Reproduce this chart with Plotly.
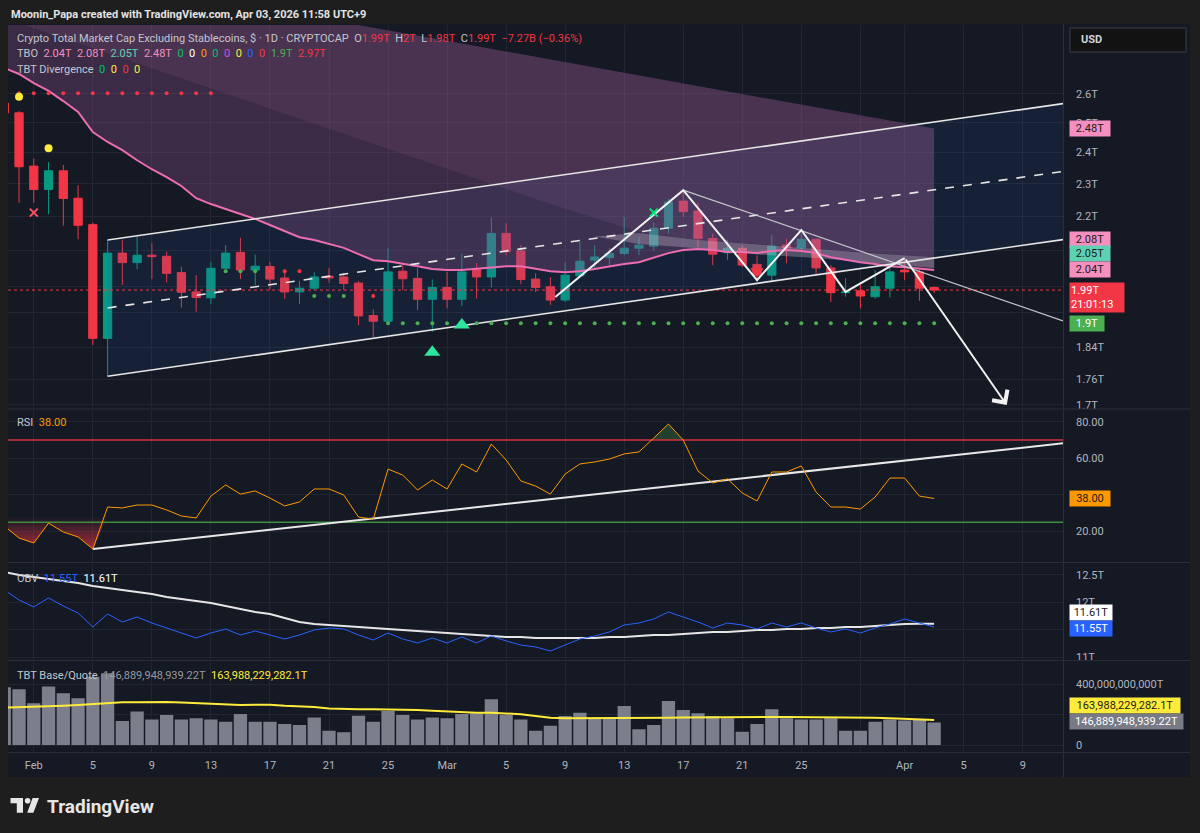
import math
import pandas as pd
import plotly.graph_objects as go

# ---------------- data ----------------
dates = pd.date_range("2026-01-30", "2026-04-03", freq="D").strftime("%Y-%m-%d").tolist()

price_open = [2.568, 2.534, 2.356, 2.282, 2.341, 2.255, 2.175, 1.862, 2.092, 2.065,
              2.086, 2.083, 2.037, 1.984, 1.968, 2.049, 2.094, 2.044, 2.054, 2.022,
              1.984, 1.994, 2.027, 2.025, 2.008, 1.921, 1.906, 2.041, 2.021, 1.964,
              1.996, 1.964, 2.046, 2.025, 2.149, 2.098, 2.019, 1.998, 1.962, 2.028,
              2.072, 2.079, 2.091, 2.106, 2.112, 2.164, 2.246, 2.216, 2.134, 2.093,
              2.106, 2.060, 2.030, 2.115, 2.107, 2.132, 2.050, 1.982, 1.987, 1.971,
              1.994, 2.044, 2.039, 1.996]
price_high = [2.585, 2.540, 2.380, 2.369, 2.360, 2.295, 2.181, 2.130, 2.130, 2.139,
              2.120, 2.096, 2.053, 2.030, 2.067, 2.115, 2.136, 2.088, 2.067, 2.039,
              2.014, 2.038, 2.050, 2.036, 2.014, 1.937, 2.106, 2.058, 2.049, 2.018,
              2.039, 2.091, 2.063, 2.196, 2.179, 2.115, 2.035, 2.024, 2.067, 2.125,
              2.115, 2.106, 2.198, 2.139, 2.181, 2.254, 2.279, 2.241, 2.149, 2.130,
              2.115, 2.086, 2.144, 2.134, 2.149, 2.134, 2.058, 2.021, 2.003, 2.044,
              2.053, 2.076, 2.049, 1.999]
price_low = [2.520, 2.241, 2.241, 2.206, 2.172, 2.132, 1.845, 1.768, 2.003, 2.046,
             2.019, 2.010, 1.942, 1.931, 1.951, 2.039, 2.019, 2.002, 1.989, 1.965,
             1.951, 1.989, 2.009, 1.989, 1.896, 1.865, 1.900, 1.989, 1.935, 1.879,
             1.940, 1.946, 1.966, 1.996, 2.086, 2.005, 1.984, 1.949, 1.957, 2.026,
             2.044, 2.053, 2.086, 2.086, 2.098, 2.149, 2.198, 2.109, 2.058, 2.073,
             2.053, 2.016, 2.012, 2.063, 2.101, 2.030, 1.957, 1.971, 1.940, 1.966,
             1.969, 2.016, 1.960, 1.981]
price_close = [2.533, 2.354, 2.282, 2.341, 2.254, 2.173, 1.862, 2.092, 2.065, 2.086,
               2.082, 2.035, 1.983, 1.969, 2.049, 2.092, 2.044, 2.055, 2.019, 1.984,
               1.994, 2.025, 2.022, 2.007, 1.920, 1.906, 2.039, 2.020, 1.964, 1.996,
               1.964, 2.039, 2.025, 2.149, 2.096, 2.018, 1.996, 1.962, 2.030, 2.069,
               2.081, 2.091, 2.106, 2.115, 2.164, 2.243, 2.214, 2.134, 2.089, 2.106,
               2.058, 2.030, 2.112, 2.107, 2.132, 2.050, 1.982, 1.984, 1.973, 1.998,
               2.039, 2.039, 1.994, 1.989]

# TBO lines (T)
tbo_fast = [2.694, 2.672, 2.639, 2.611, 2.575, 2.537, 2.468, 2.435, 2.408, 2.375,
            2.346, 2.321, 2.293, 2.255, 2.237, 2.222, 2.207, 2.192, 2.174, 2.156,
            2.138, 2.130, 2.118, 2.107, 2.089, 2.072, 2.069, 2.063, 2.055, 2.047,
            2.044, 2.044, 2.047, 2.052, 2.055, 2.055, 2.049, 2.041, 2.038, 2.041,
            2.047, 2.055, 2.061, 2.066, 2.078, 2.092, 2.101, 2.104, 2.101, 2.095,
            2.095, 2.092, 2.098, 2.101, 2.098, 2.092, 2.080, 2.072, 2.066, 2.061,
            2.055, 2.052, 2.047, 2.044]
tbo_slow_dates = ["2026-01-30", "2026-03-01", "2026-04-03"]
tbo_slow = [3.113, 2.796, 2.48]
tbo_mid_dates = ["2026-01-30", "2026-02-06", "2026-03-08", "2026-03-14", "2026-03-18", "2026-03-25", "2026-04-03"]
tbo_mid = [2.884, 2.749, 2.237, 2.153, 2.130, 2.109, 2.080]
band_dates = ["2026-03-11", "2026-03-14", "2026-03-18", "2026-03-22", "2026-03-26", "2026-03-30", "2026-04-03"]
band_upper = [2.140, 2.150, 2.130, 2.118, 2.104, 2.091, 2.080]
band_lower = [2.140, 2.118, 2.106, 2.088, 2.078, 2.063, 2.050]

# trailing stop dots: (first day, last day, level T, side)
stop_segments = [("2026-01-31", "2026-02-13", 2.603, "short"),
                 ("2026-02-14", "2026-02-16", 2.041, "long"),
                 ("2026-02-17", "2026-02-19", 2.041, "short"),
                 ("2026-02-20", "2026-02-22", 1.973, "long"),
                 ("2026-02-23", "2026-02-24", 1.973, "short"),
                 ("2026-02-25", "2026-04-03", 1.901, "long")]

# drawings (date, T)
chan_dates = ["2026-02-06", "2026-04-11 17:30"]
chan_upper = [2.130, 2.566]
chan_mid = [1.941, 2.339]
chan_lower = [1.768, 2.131]
zig_dates = ["2026-03-08 08:00", "2026-03-17", "2026-03-22", "2026-03-25", "2026-03-28", "2026-04-01"]
zig_vals = [1.970, 2.280, 2.016, 2.159, 1.984, 2.078]
arrow_end = ("2026-04-07 22:00", 1.700)
trend_dates = ["2026-03-17", "2026-04-11 17:30"]
trend_vals = [2.280, 1.907]

# signals
yellow_dates, yellow_vals = ["2026-01-31", "2026-02-02"], [2.590, 2.414]
redx_dates, redx_vals = ["2026-02-01"], [2.211]
greenx_dates, greenx_vals = ["2026-03-15"], [2.211]
buy_dates, buy_vals = ["2026-02-28", "2026-03-02"], [1.827, 1.896]
sell_dates, sell_vals = ["2026-03-22"], [2.041]

rsi = [22.9, 16.3, 13.6, 24.5, 19.6, 16.9, 10.3, 33.3, 32.8, 34.4,
       34.4, 31.7, 28.4, 27.3, 39.3, 45.4, 40.4, 42.1, 38.2, 33.9,
       36.1, 43.2, 43.2, 39.9, 27.8, 26.7, 54.1, 50.8, 42.6, 48.1,
       43.2, 56.9, 52.5, 67.8, 59.1, 47.6, 44.8, 40.4, 51.4, 56.9,
       58.0, 59.6, 62.4, 63.5, 71.1, 78.8, 70.0, 53.0, 46.5, 48.7,
       41.0, 36.6, 52.5, 52.5, 55.8, 41.5, 33.3, 33.3, 32.2, 38.8,
       49.2, 49.2, 39.3, 38.0]
rsi_trend_dates = ["2026-02-05", "2026-04-11 17:30"]
rsi_trend_vals = [10.3, 68.2]

obv = [12.226, 12.043, 11.915, 12.080, 11.933, 11.805, 11.549, 11.787, 11.641, 11.732,
       11.622, 11.531, 11.440, 11.348, 11.440, 11.513, 11.403, 11.476, 11.403, 11.330,
       11.403, 11.495, 11.531, 11.513, 11.403, 11.312, 11.440, 11.330, 11.257, 11.348,
       11.257, 11.367, 11.257, 11.385, 11.293, 11.220, 11.184, 11.111, 11.220, 11.330,
       11.385, 11.458, 11.586, 11.622, 11.696, 11.824, 11.732, 11.641, 11.531, 11.622,
       11.586, 11.513, 11.622, 11.549, 11.622, 11.531, 11.458, 11.513, 11.440, 11.531,
       11.604, 11.696, 11.622, 11.55]
obv_ma = [12.555, 12.500, 12.463, 12.427, 12.390, 12.354, 12.299, 12.262, 12.226, 12.189,
          12.153, 12.098, 12.061, 12.025, 11.988, 11.933, 11.878, 11.824, 11.787, 11.714,
          11.641, 11.604, 11.586, 11.568, 11.549, 11.531, 11.513, 11.495, 11.476, 11.458,
          11.440, 11.422, 11.403, 11.385, 11.367, 11.367, 11.348, 11.348, 11.348, 11.348,
          11.348, 11.367, 11.367, 11.385, 11.403, 11.403, 11.422, 11.440, 11.458, 11.458,
          11.476, 11.495, 11.495, 11.513, 11.513, 11.531, 11.531, 11.549, 11.549, 11.568,
          11.586, 11.604, 11.610, 11.610]

# base/quote volume, billions of T
volume = [378, 365, 273, 383, 339, 306, 448, 470, 157, 219,
          168, 197, 168, 175, 168, 153, 203, 153, 153, 138,
          131, 181, 94, 83, 192, 153, 223, 197, 168, 181,
          175, 203, 208, 300, 197, 168, 94, 127, 190, 212,
          175, 175, 256, 103, 131, 289, 230, 208, 190, 175,
          87, 138, 234, 175, 168, 168, 175, 94, 94, 153,
          168, 160, 164, 146.89]
volume_ma = [245, 247, 251, 253, 257, 262, 268, 278, 280, 280,
             282, 282, 278, 273, 268, 264, 262, 264, 264, 257,
             253, 249, 240, 236, 234, 234, 234, 232, 230, 225,
             221, 214, 212, 212, 208, 201, 190, 179, 175, 175,
             175, 176, 176, 177, 179, 179, 181, 182, 183, 183,
             183, 183, 183, 183, 183, 183, 183, 183, 181, 179,
             176, 172, 168, 164]

tick_dates = ["2026-02-01", "2026-02-05", "2026-02-09", "2026-02-13", "2026-02-17", "2026-02-21",
              "2026-02-25", "2026-03-01", "2026-03-05", "2026-03-09", "2026-03-13", "2026-03-17",
              "2026-03-21", "2026-03-25", "2026-03-29", "2026-04-01", "2026-04-05", "2026-04-09"]
tick_text = ["Feb", "5", "9", "13", "17", "21", "25", "Mar", "5", "9", "13", "17", "21", "25", "",
             "Apr", "5", "9"]
price_ticks = [1.7, 1.76, 1.84, 1.93, 2.0, 2.1, 2.2, 2.3, 2.4, 2.5, 2.6]
price_tick_text = ["1.7T", "1.76T", "1.84T", "", "", "", "2.2T", "2.3T", "2.4T", "2.5T", "2.6T"]

# ---------------- geometry / style ----------------
W, H = 1200, 833
ML, MR, MT, MB = 8, 137, 25, 81
PW, PH = W - ML - MR, H - MT - MB


def px(x):
    return (x - ML) / PW


def py(y):
    return 1 - (y - MT) / PH


X_RANGE = ["2026-01-30 06:03", "2026-04-11 17:30"]
BG = "#151924"
FRAME = "#1e1e1e"
GRID = "#222633"
SEP = "#2a2e39"
TXT = "#b2b5be"
LEG = "#c3c6ce"
GREEN = "#089981"
RED = "#f23645"
PINK = "#ec6db0"
FONT = "Roboto, sans-serif"

fig = go.Figure()

# channel fill
fig.add_trace(go.Scatter(x=chan_dates + chan_dates[::-1], y=chan_upper + chan_lower[::-1],
                         fill="toself", fillcolor="rgba(40,90,170,0.13)", line=dict(width=0),
                         mode="lines", xaxis="x", yaxis="y", hoverinfo="skip"))
# TBO cloud
fig.add_trace(go.Scatter(x=tbo_slow_dates, y=tbo_slow, mode="lines", line=dict(width=0),
                         xaxis="x", yaxis="y", hoverinfo="skip"))
fig.add_trace(go.Scatter(x=dates, y=tbo_fast, mode="lines", line=dict(width=0), fill="tonexty",
                         fillcolor="rgba(150,85,150,0.30)", xaxis="x", yaxis="y", hoverinfo="skip"))
fig.add_trace(go.Scatter(x=tbo_slow_dates, y=tbo_slow, mode="lines", line=dict(width=0),
                         xaxis="x", yaxis="y", hoverinfo="skip"))
fig.add_trace(go.Scatter(x=tbo_mid_dates, y=tbo_mid, mode="lines", line=dict(width=0), fill="tonexty",
                         fillcolor="rgba(200,130,190,0.10)", xaxis="x", yaxis="y", hoverinfo="skip"))
fig.add_trace(go.Scatter(x=band_dates, y=band_upper, mode="lines", line=dict(width=0),
                         xaxis="x", yaxis="y", hoverinfo="skip"))
fig.add_trace(go.Scatter(x=band_dates, y=band_lower, mode="lines", line=dict(width=0), fill="tonexty",
                         fillcolor="rgba(225,215,235,0.28)", xaxis="x", yaxis="y", hoverinfo="skip"))

# candles
fig.add_trace(go.Candlestick(x=dates, open=price_open, high=price_high, low=price_low, close=price_close,
                             increasing=dict(line=dict(color=GREEN, width=1), fillcolor=GREEN),
                             decreasing=dict(line=dict(color=RED, width=1), fillcolor=RED),
                             whiskerwidth=0, xaxis="x", yaxis="y", hoverinfo="skip"))

# pink fast line
fig.add_trace(go.Scatter(x=dates, y=tbo_fast, mode="lines", line=dict(color=PINK, width=2),
                         xaxis="x", yaxis="y", hoverinfo="skip"))
# current price line
fig.add_trace(go.Scatter(x=X_RANGE, y=[price_close[-1]] * 2, mode="lines",
                         line=dict(color=RED, width=1, dash="dot"), xaxis="x", yaxis="y", hoverinfo="skip"))

# channel lines
for vals, dash in ((chan_upper, "solid"), (chan_mid, "dash"), (chan_lower, "solid")):
    fig.add_trace(go.Scatter(x=chan_dates, y=vals, mode="lines",
                             line=dict(color="#e6e6e6", width=1.6, dash=dash),
                             xaxis="x", yaxis="y", hoverinfo="skip"))
# trend line from peak
fig.add_trace(go.Scatter(x=trend_dates, y=trend_vals, mode="lines", line=dict(color="#c4c4cc", width=1.2),
                         xaxis="x", yaxis="y", hoverinfo="skip"))
# zigzag
fig.add_trace(go.Scatter(x=zig_dates, y=zig_vals, mode="lines", line=dict(color="#f2f2f2", width=2),
                         xaxis="x", yaxis="y", hoverinfo="skip"))

# trailing stop dots
for side, col in (("short", RED), ("long", "#4caf50")):
    dx, dy = [], []
    for a, b, lvl, s in stop_segments:
        if s != side:
            continue
        for d in pd.date_range(a, b, freq="D").strftime("%Y-%m-%d"):
            dx.append(d)
            dy.append(lvl)
    fig.add_trace(go.Scatter(x=dx, y=dy, mode="markers", marker=dict(color=col, size=4),
                             xaxis="x", yaxis="y", hoverinfo="skip"))

# signals
fig.add_trace(go.Scatter(x=yellow_dates, y=yellow_vals, mode="markers",
                         marker=dict(color="#ffeb3b", size=8, symbol="circle"), xaxis="x", yaxis="y", hoverinfo="skip"))
fig.add_trace(go.Scatter(x=redx_dates, y=redx_vals, mode="markers",
                         marker=dict(color="#f7525f", size=8, symbol="x-thin", line=dict(width=2, color="#f7525f")),
                         xaxis="x", yaxis="y", hoverinfo="skip"))
fig.add_trace(go.Scatter(x=greenx_dates, y=greenx_vals, mode="markers",
                         marker=dict(color="#00e676", size=8, symbol="x-thin", line=dict(width=2, color="#00e676")),
                         xaxis="x", yaxis="y", hoverinfo="skip"))
fig.add_trace(go.Scatter(x=buy_dates, y=buy_vals, mode="markers",
                         marker=dict(color="#2ee59d", size=14, symbol="triangle-up"), xaxis="x", yaxis="y", hoverinfo="skip"))
fig.add_trace(go.Scatter(x=sell_dates, y=sell_vals, mode="markers",
                         marker=dict(color=RED, size=12, symbol="triangle-down"), xaxis="x", yaxis="y", hoverinfo="skip"))

# ---- RSI pane ----
n_os = 8
fig.add_trace(go.Scatter(x=dates[:n_os], y=[28] * n_os, mode="lines", line=dict(width=0),
                         xaxis="x2", yaxis="y2", hoverinfo="skip"))
fig.add_trace(go.Scatter(x=dates[:n_os], y=[min(v, 28) for v in rsi[:n_os]], mode="lines", line=dict(width=0),
                         fill="tonexty",
                         fillgradient=dict(type="vertical",
                                           colorscale=[[0, "rgba(242,54,69,0.65)"], [1, "rgba(242,54,69,0.0)"]]),
                         xaxis="x2", yaxis="y2", hoverinfo="skip"))
fig.add_trace(go.Scatter(x=dates[44:47], y=[70] * 3, mode="lines", line=dict(width=0),
                         xaxis="x2", yaxis="y2", hoverinfo="skip"))
fig.add_trace(go.Scatter(x=dates[44:47], y=[max(v, 70) for v in rsi[44:47]], mode="lines", line=dict(width=0),
                         fill="tonexty", fillcolor="rgba(76,175,80,0.25)", xaxis="x2", yaxis="y2", hoverinfo="skip"))
fig.add_trace(go.Scatter(x=X_RANGE, y=[70, 70], mode="lines", line=dict(color="#d3323f", width=1.6),
                         xaxis="x2", yaxis="y2", hoverinfo="skip"))
fig.add_trace(go.Scatter(x=X_RANGE, y=[25, 25], mode="lines", line=dict(color="#3f8f3f", width=1.6),
                         xaxis="x2", yaxis="y2", hoverinfo="skip"))
fig.add_trace(go.Scatter(x=rsi_trend_dates, y=rsi_trend_vals, mode="lines", line=dict(color="#e8e8e8", width=2),
                         xaxis="x2", yaxis="y2", hoverinfo="skip"))
fig.add_trace(go.Scatter(x=dates, y=rsi, mode="lines", line=dict(color="#ff9800", width=1),
                         xaxis="x2", yaxis="y2", hoverinfo="skip"))

# ---- OBV pane ----
fig.add_trace(go.Scatter(x=dates, y=obv_ma, mode="lines", line=dict(color="#e6e6e6", width=2),
                         xaxis="x3", yaxis="y3", hoverinfo="skip"))
fig.add_trace(go.Scatter(x=dates, y=obv, mode="lines", line=dict(color="#2962ff", width=1),
                         xaxis="x3", yaxis="y3", hoverinfo="skip"))

# ---- Volume pane ----
fig.add_trace(go.Bar(x=dates, y=volume, marker=dict(color="#7c7f8b", line=dict(width=0)),
                     xaxis="x4", yaxis="y4", hoverinfo="skip"))
fig.add_trace(go.Scatter(x=dates, y=volume_ma, mode="lines", line=dict(color="#ffeb3b", width=2),
                         xaxis="x4", yaxis="y4", hoverinfo="skip"))

# ---------------- layout ----------------
xcommon = dict(type="date", range=X_RANGE, showgrid=True, gridcolor=GRID, gridwidth=1,
               tickvals=tick_dates, ticktext=tick_text, zeroline=False, showline=False, ticks="",
               rangeslider=dict(visible=False), fixedrange=True)
ycommon = dict(side="right", showgrid=True, gridcolor=GRID, zeroline=False, showline=False, ticks="",
               tickfont=dict(size=11, color=TXT, family=FONT), ticklabelstandoff=12, fixedrange=True)

layout = dict(
    width=W, height=H, margin=dict(l=ML, r=MR, t=MT, b=MB),
    paper_bgcolor=FRAME, plot_bgcolor="rgba(0,0,0,0)", showlegend=False,
    font=dict(family=FONT, color=TXT, size=11),
    boxgap=0.2, bargap=0.1,
    xaxis=dict(**xcommon, anchor="y", showticklabels=False),
    xaxis2=dict(**xcommon, anchor="y2", matches="x", showticklabels=False),
    xaxis3=dict(**xcommon, anchor="y3", matches="x", showticklabels=False),
    xaxis4=dict(**xcommon, anchor="y4", matches="x", showticklabels=True, ticklabelstandoff=5,
                tickfont=dict(size=11, color=TXT, family=FONT)),
    yaxis=dict(**ycommon, domain=[py(408), 1], type="log", anchor="x",
               range=[math.log10(1.693), math.log10(2.857)], tickvals=price_ticks, ticktext=price_tick_text),
    yaxis2=dict(**ycommon, domain=[py(562), py(410)], anchor="x2", range=[3.18, 86.47],
                tickvals=[20, 40, 60, 80], ticktext=["20.00", "", "60.00", "80.00"]),
    yaxis3=dict(**ycommon, domain=[py(659.5), py(563.5)], anchor="x3", range=[10.955, 12.710],
                tickvals=[11, 11.5, 12, 12.5], ticktext=["11T", "", "12T", "12.5T"]),
    yaxis4=dict(**ycommon, domain=[0, py(661.5)], anchor="x4", range=[-45.9, 547.5],
                tickvals=[0, 200, 400], ticktext=["0", "", "400,000,000,000T"]),
)
fig.update_layout(**layout)

shapes = []
# chart background
shapes.append(dict(type="rect", xref="paper", yref="paper", x0=px(8), x1=px(1190), y0=py(777), y1=py(24),
                   fillcolor=BG, line=dict(width=0), layer="below"))
# separators
for yy in (409, 562.5, 660.5, 752.5):
    shapes.append(dict(type="line", xref="paper", yref="paper", x0=px(8), x1=px(1190), y0=py(yy), y1=py(yy),
                       line=dict(color=SEP, width=1), layer="above"))
shapes.append(dict(type="line", xref="paper", yref="paper", x0=px(1063.5), x1=px(1063.5), y0=py(777), y1=py(24),
                   line=dict(color=SEP, width=1), layer="above"))
# USD button
shapes.append(dict(type="rect", xref="paper", yref="paper", x0=px(1070), x1=px(1186), y0=py(52), y1=py(28),
                   fillcolor="#121212", line=dict(color="#3a3e48", width=1), layer="above"))


# TradingView logo
def pth(pts):
    return "M " + " L ".join(f"{px(a):.5f},{py(b):.5f}" for a, b in pts) + " Z"


shapes.append(dict(type="path", xref="paper", yref="paper",
                   path=pth([(10.5, 798), (23, 798), (23, 812.7), (16.8, 812.7), (16.8, 803.3), (10.5, 803.3)]),
                   fillcolor="#e6e6e6", line=dict(width=0)))
shapes.append(dict(type="circle", xref="paper", yref="paper", x0=px(24.8), x1=px(30.4), y0=py(803.6), y1=py(798),
                   fillcolor="#e6e6e6", line=dict(width=0)))
shapes.append(dict(type="path", xref="paper", yref="paper",
                   path=pth([(32.6, 798), (39, 798), (33.4, 812.7), (27.2, 812.7)]),
                   fillcolor="#e6e6e6", line=dict(width=0)))
fig.update_layout(shapes=shapes)

NB = "\u00a0"


def sp(t, c):
    return f'<span style="color:{c}">{t}</span>'


ann = []


def text_at(x, y, text, size=11, color=LEG, anchor="left"):
    ann.append(dict(xref="paper", yref="paper", x=px(x), y=py(y), text=text, showarrow=False,
                    xanchor=anchor, yanchor="middle", font=dict(size=size, color=color, family=FONT)))


text_at(9, 15, "<b>Moonin_Papa created with TradingView.com, Apr 03, 2026 11:58 UTC+9</b>", size=11, color="#e3e3e3")
line1 = ("Crypto Total Market Cap Excluding Stablecoins, $ · 1D · CRYPTOCAP" + NB * 2 +
         "O" + sp("1.99T", RED) + NB * 2 + "H" + sp("2T", RED) + NB * 2 + "L" + sp("1.98T", RED) + NB * 2 +
         "C" + sp("1.99T", RED) + NB * 2 + sp("−7.27B (−0.36%)", RED))
text_at(15, 39, line1)
tbo_vals = [("2.04T", "#f48fbf"), ("2.08T", "#f48fbf"), ("2.05T", "#5fd1b3"), ("2.48T", "#f48fbf"),
            ("0", "#00c26a"), ("0", "#ffffff"), ("0", "#ff9800"), ("0", "#00c26a"), ("0", "#d24ee0"),
            ("0", "#ffeb3b"), ("0", "#2962ff"), ("0", RED), ("1.9T", "#4caf50"), ("2.97T", RED)]
line2 = "TBO" + "".join(NB * 2 + sp(t, c) for t, c in tbo_vals)
text_at(15, 54, line2)
line3 = "TBT Divergence" + "".join(NB * 2 + sp("0", c) for c in ("#00c26a", "#ffeb3b", RED, "#ffeb3b"))
text_at(15, 70, line3)
text_at(15, 422, "RSI" + NB * 2 + sp("38.00", "#ff9800"))
text_at(15, 578, "OBV" + NB * 2 + sp("11.55T", "#2962ff") + NB * 2 + sp("11.61T", "#ffffff"))
text_at(15, 675, "TBT Base/Quote" + NB * 2 + sp("146,889,948,939.22T", "#9598a1") + NB * 2 +
        sp("163,988,229,282.1T", "#ffeb3b"))
text_at(1079, 40, "<b>USD</b>", size=11, color="#d1d4dc")
ann.append(dict(xref="paper", yref="paper", x=px(45), y=py(806), text="<b>TradingView</b>", showarrow=False,
                xanchor="left", yanchor="middle", font=dict(size=19, color="#e6e6e6", family=FONT)))


def tag(text, yref, y, bg, fg, yshift=0, width=38, height=13, align="center", yanchor="middle"):
    ann.append(dict(xref="paper", yref=yref, x=px(1068.5), y=y, text=text, showarrow=False, xanchor="left",
                    yanchor=yanchor, yshift=yshift, bgcolor=bg, borderpad=1, width=width, height=height,
                    align=align, font=dict(size=11, color=fg, family=FONT)))


tag("2.48T", "y", math.log10(tbo_slow[-1]), "#f48fbf", "#1b1b1b")
tag("2.08T", "y", math.log10(tbo_mid[-1]), "#f48fbf", "#1b1b1b", yshift=18)
tag("2.05T", "y", math.log10(band_lower[-1]), "#5fd1b3", "#1b1b1b", yshift=14)
tag("2.04T", "y", math.log10(tbo_fast[-1]), "#f48fbf", "#1b1b1b", yshift=1)
tag("1.99T<br>21:01:13", "y", math.log10(price_close[-1]), RED, "#ffffff", yshift=8, width=52, height=27,
    align="left", yanchor="top")
tag("1.9T", "y", math.log10(1.901), "#4caf50", "#ffffff", width=32)
tag("38.00", "y2", rsi[-1], "#ff9800", "#1b1b1b")
tag("11.61T", "y3", obv_ma[-1], "#ffffff", "#1b1b1b", yshift=11, width=40)
tag("11.55T", "y3", obv[-1], "#2962ff", "#ffffff", yshift=-2, width=40)
tag("163,988,229,282.1T", "y4", volume_ma[-1], "#ffeb3b", "#1b1b1b", yshift=14, width=108)
tag("146,889,948,939.22T", "y4", volume[-1], "#787b86", "#ffffff", yshift=1, width=111)

# arrow of projected move
ann.append(dict(x=arrow_end[0], y=math.log10(arrow_end[1]), ax=zig_dates[-1], ay=math.log10(zig_vals[-1]),
                xref="x", yref="y", axref="x", ayref="y", showarrow=True, arrowhead=4, arrowsize=1.8,
                arrowwidth=2, arrowcolor="#f2f2f2", text="", standoff=0, startstandoff=0))
fig.update_layout(annotations=ann)

fig.write_html("out.html")
